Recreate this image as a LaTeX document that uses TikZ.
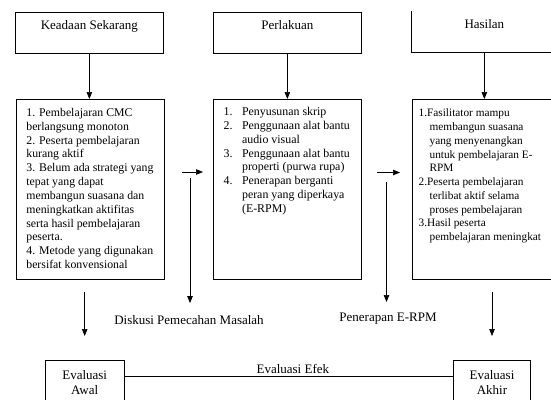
\documentclass[tikz,border=0pt]{standalone}
\usepackage{fontspec}
\setmainfont{Liberation Serif}
\usetikzlibrary{arrows.meta,positioning}
\tikzstyle{flowstyle}=[
    x=1pt, y=-1pt,
    >={Triangle[width=5.5pt,length=7pt]},
    line width=0.7pt,
    every node/.style={inner sep=0pt},
]
\tikzstyle{headbox}=[draw, anchor=north west, minimum width=148pt, minimum height=41pt]
\tikzstyle{listbox}=[draw, anchor=north west, minimum width=148pt, minimum height=180pt]
\tikzstyle{headlabel}=[anchor=north, yshift=-8.5pt, font=\fontsize{13}{15}\selectfont]
\tikzstyle{evalbox}=[draw, anchor=north, align=center, inner ysep=10pt,
    font=\fontsize{13}{15}\selectfont]
\tikzstyle{flowlabel}=[font=\fontsize{13}{15}\selectfont]

\begin{document}
\begin{tikzpicture}[flowstyle]
    \useasboundingbox (0,0) rectangle (551,399);
    \clip (0,0) rectangle (551,399);
    % top row
    \node (keadaan) at (15,12) [headbox, label={[headlabel]north:Keadaan Sekarang}] {};
    \node (perlakuan) at (213,12) [headbox, label={[headlabel]north:Perlakuan}] {};
    \node (hasilan) at (411,11) [anchor=north west, minimum width=146pt, minimum height=41pt,
        label={[headlabel]north:Hasilan}] {};
    \draw (hasilan.north west) -- (hasilan.south west) -- (hasilan.south east);
    % middle row
    \node (kondisi) at (16,99) [listbox] {};
    \node (tindakan) at (213,99) [listbox] {};
    \node (capaian) at (412,99) [listbox, minimum width=146pt] {};
    \node at (26,107.8) [anchor=north west, align=left, font=\fontsize{11.8}{13.85}\selectfont] {%
        1. Pembelajaran CMC\\
        berlangsung monoton\\
        2. Peserta pembelajaran\\
        kurang aktif\\
        3. Belum ada strategi yang\\
        tepat yang dapat\\
        membangun suasana dan\\
        meningkatkan aktifitas\\
        serta hasil pembelajaran\\
        peserta.\\
        4. Metode yang digunakan\\
        bersifat konvensional};
    \node at (223.3,105.3) [anchor=north west, font=\fontsize{11.9}{13.9}\selectfont] {%
        \begin{tabular}{@{}p{18.4pt}@{}l@{}}
        1. & Penyusunan skrip\\
        2. & Penggunaan alat bantu\\
           & audio visual\\
        3. & Penggunaan alat bantu\\
           & properti (purwa rupa)\\
        4. & Penerapan berganti\\
           & peran yang diperkaya\\
           & (E-RPM)
        \end{tabular}};
    \node at (418.3,108.6) [anchor=north west, align=left, font=\fontsize{11.3}{13.75}\selectfont] {%
        1.Fasilitator mampu\\
        \hspace*{11pt}membangun suasana\\
        \hspace*{11pt}yang menyenangkan\\
        \hspace*{11pt}untuk pembelajaran E-\\
        \hspace*{11pt}RPM\\
        2.Peserta pembelajaran\\
        \hspace*{11pt}terlibat aktif selama\\
        \hspace*{11pt}proses pembelajaran\\
        3.Hasil peserta\\
        \hspace*{11pt}pembelajaran meningkat};
    \draw[->] (keadaan.south) -- (kondisi.north -| keadaan.south);
    \draw[->] (perlakuan.south) -- (tindakan.north -| perlakuan.south);
    \draw[->] (hasilan.south) -- (capaian.north -| hasilan.south);
    % side arrows and labels
    \node (diskusi) at (189,320) [flowlabel] {Diskusi Pemecahan Masalah};
    \node (penerapan) at (388,319) [flowlabel] {Penerapan E-RPM};
    \coordinate (masukA) at (182,172);
    \coordinate (turunA) at (190,178);
    \coordinate (masukB) at (377,172.5);
    \coordinate (turunB) at (386.5,182);
    \draw[->] (masukA) -- ++(21,0);
    \draw[->] (masukB) -- ++(23,0);
    \draw[->, shorten >=12pt] (turunA) -- (turunA |- diskusi.north);
    \draw[->, shorten >=11pt] (turunB) -- (turunB |- penerapan.north);
    % bottom row
    \node (awal) at (84.7,360) [evalbox, minimum width=79pt] {Evaluasi\\Awal};
    \node (akhir) at (492,360) [evalbox, minimum width=77pt] {Evaluasi\\Akhir};
    \draw[->, shorten <=12pt, shorten >=24pt] (awal.north |- kondisi.south) -- (awal.north);
    \draw[->, shorten <=12pt, shorten >=24pt] (akhir.north |- capaian.south) -- (akhir.north);
    \draw ([yshift=-16.7pt]awal.north east) -- ([yshift=-16.7pt]akhir.north west)
        node[midway, above=3pt, xshift=4pt, flowlabel] {Evaluasi Efek};
\end{tikzpicture}
\end{document}
